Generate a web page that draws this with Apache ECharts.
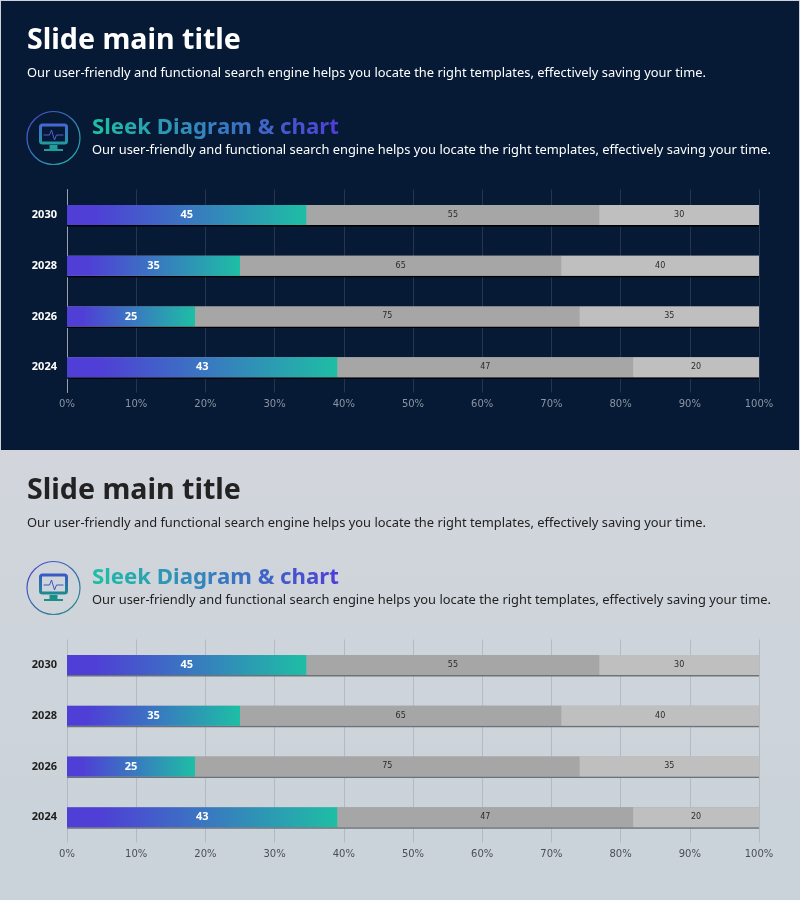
<!DOCTYPE html>
<html><head><meta charset="utf-8">
<style>html,body{margin:0;padding:0;background:#ced3da}#c{width:800px;height:900px}</style>
<script src="https://cdn.jsdelivr.net/npm/echarts@6/dist/echarts.min.js"></script>
</head><body><div id="c"></div>
<script>
const years = ['2024', '2026', '2028', '2030'];
const gradientValues = [43, 25, 35, 45];
const midValues = [47, 75, 65, 55];
const lightValues = [20, 35, 40, 30];
const fullBar = [100, 100, 100, 100];
const xTicks = '{value}%';
const mainTitle = 'Slide main title';
const subTitle = 'Our user-friendly and functional search engine helps you locate the right templates, effectively saving your time.';
const diagramTitle = 'Sleek Diagram & chart';

const FONT = '"Noto Sans", sans-serif';
const TICKFONT = '"DejaVu Sans", sans-serif';
const PURPLE = [79, 63, 214], TEAL = [30, 190, 165];
const G = echarts.graphic;
const grad = (x, y, x2, y2, a, b) => new G.LinearGradient(x, y, x2, y2, [{offset: 0, color: a}, {offset: 1, color: b}]);
const rgb = c => 'rgb(' + c.join(',') + ')';

function pct(arr) {
  return arr.map((v, i) => ({value: v / (gradientValues[i] + midValues[i] + lightValues[i]) * 100, raw: v}));
}
function mix(t) { return PURPLE.map((p, i) => Math.round(TEAL[i] + (p - TEAL[i]) * t)); }
function gradientRich(text) {
  const rich = {}; let s = '';
  [...text].forEach((ch, i) => {
    rich['c' + i] = {fill: rgb(mix(i / (text.length - 1))), font: 'bold 22.2px ' + FONT};
    s += '{c' + i + '|' + ch + '}';
  });
  return {text: s, rich};
}

function header(y0, titleCol, subCol, circleCol, monitorA, monitorB) {
  const cy = y0 + 138, cx = 53.5;
  const t = gradientRich(diagramTitle);
  return [
    {type: 'text', z: 5, style: {x: 27, y: y0 + 41, text: mainTitle, fill: titleCol, font: 'bold 28.6px ' + FONT, verticalAlign: 'middle'}},
    {type: 'text', z: 5, style: {x: 27, y: y0 + 73.5, text: subTitle, fill: subCol, font: '12.88px ' + FONT, verticalAlign: 'middle'}},
    {type: 'text', z: 5, style: {x: 92, y: y0 + 128, text: t.text, rich: t.rich, verticalAlign: 'middle'}},
    {type: 'text', z: 5, style: {x: 92, y: y0 + 150.5, text: subTitle, fill: subCol, font: '12.88px ' + FONT, verticalAlign: 'middle'}},
    {type: 'circle', z: 5, shape: {cx, cy, r: 26.5}, style: {fill: 'none', lineWidth: 1.2, stroke: grad(0, 0, 1, 1, 'rgb(79,63,214)', circleCol)}},
    {type: 'rect', z: 5, shape: {x: cx - 13, y: cy - 13, width: 26, height: 18, r: 2}, style: {fill: 'none', lineWidth: 3, stroke: grad(0, 0, 0, 1, monitorA, monitorB)}},
    {type: 'polyline', z: 5, shape: {points: [[cx - 10, cy - 3], [cx - 4, cy - 3], [cx - 2, cy - 8], [cx + 1, cy + 2], [cx + 3, cy - 3], [cx + 10, cy - 3]]}, style: {fill: 'none', lineWidth: 1, stroke: monitorA}},
    {type: 'rect', z: 5, shape: {x: cx - 4, y: cy + 7, width: 8, height: 4}, style: {fill: monitorB}},
    {type: 'rect', z: 5, shape: {x: cx - 9.5, y: cy + 11, width: 19, height: 2}, style: {fill: monitorB}}
  ];
}

const grids = [
  {left: 67, width: 692, top: 189.5, height: 203},
  {left: 67, width: 692, top: 639.5, height: 203}
];

function axes(idx, tickCol, yCol, splitCol, yLine) {
  return {
    x: {type: 'value', gridIndex: idx, min: 0, max: 100, interval: 10,
      axisLine: {show: false}, axisTick: {show: false},
      axisLabel: {formatter: xTicks, color: tickCol, fontFamily: TICKFONT, fontSize: 10, margin: 7},
      splitLine: {show: true, lineStyle: {color: splitCol, width: 1}}},
    y: {type: 'category', gridIndex: idx, data: years,
      axisLine: {show: yLine, lineStyle: {color: '#9aa1ab', width: 1}}, axisTick: {show: false},
      axisLabel: {color: yCol, fontFamily: FONT, fontWeight: 'bold', fontSize: 11, margin: 10},
      splitLine: {show: false}}
  };
}

function seriesFor(idx, shadow, smallLabel) {
  const base = {type: 'bar', stack: 's' + idx, xAxisIndex: idx, yAxisIndex: idx, barWidth: 20, barGap: '-100%'};
  const small = {show: true, position: 'inside', color: smallLabel, fontFamily: TICKFONT, fontSize: 8, formatter: p => p.data.raw};
  return [
    {type: 'bar', xAxisIndex: idx, yAxisIndex: idx, barWidth: 20, barGap: '-100%', silent: true, data: fullBar,
      itemStyle: {color: '#a6a6a6', shadowColor: shadow, shadowOffsetY: 1.5, shadowBlur: 0}, label: {show: false}},
    Object.assign({}, base, {data: pct(gradientValues),
      itemStyle: {color: new G.LinearGradient(0, 0, 1, 0, [
        {offset: 0, color: rgb(PURPLE)}, {offset: 0.12, color: rgb(PURPLE)}, {offset: 1, color: rgb(TEAL)}])},
      label: {show: true, position: 'inside', color: '#fff', fontFamily: FONT, fontWeight: 'bold', fontSize: 11, formatter: p => p.data.raw}}),
    Object.assign({}, base, {data: pct(midValues), itemStyle: {color: '#a6a6a6'}, label: small}),
    Object.assign({}, base, {data: pct(lightValues), itemStyle: {color: '#bfbfbf'}, label: small})
  ];
}

const a0 = axes(0, '#8b94a2', '#ffffff', 'rgba(255,255,255,0.12)', true);
const a1 = axes(1, '#4a4f55', '#1e1e1e', 'rgba(120,130,145,0.3)', false);

const chart = echarts.init(document.getElementById('c'), null, {renderer: 'canvas'});
chart.setOption({
  animation: false,
  backgroundColor: '#cfd3d9',
  grid: grids,
  xAxis: [a0.x, a1.x],
  yAxis: [a0.y, a1.y],
  series: [...seriesFor(0, '#000000', '#2b2b2b'), ...seriesFor(1, '#6d7278', '#2b2b2b')],
  graphic: {elements: [
    {type: 'rect', z: -10, silent: true, shape: {x: 0, y: 450, width: 800, height: 450}, style: {fill: grad(0, 0, 0, 1, '#d2d5dc', '#c9d3d9')}},
    {type: 'rect', z: -9, silent: true, shape: {x: 1, y: 1, width: 798, height: 449}, style: {fill: '#061a35'}},
    ...header(0, '#ffffff', '#ffffff', 'rgb(30,190,165)', '#4a62d8', '#1e9f9c'),
    ...header(450, '#222222', '#222222', 'rgb(30,150,130)', '#3d55c8', '#1a8f8a')
  ]}
});
</script></body></html>
